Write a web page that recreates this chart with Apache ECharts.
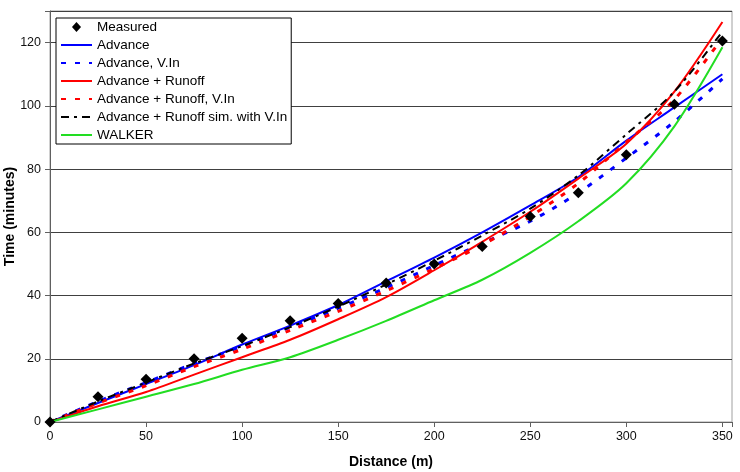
<!DOCTYPE html>
<html>
<head>
<meta charset="utf-8">
<script src="https://cdn.jsdelivr.net/npm/echarts@6/dist/echarts.min.js"></script>
<style>
html,body{margin:0;padding:0;background:#fff;}
#chart{width:740px;height:472px;}
</style>
</head>
<body>
<div id="chart"></div>
<script>
var distances = [0, 25, 50, 75, 100, 125, 150, 175, 200, 225, 250, 275, 300, 325, 350];
var measured = [0, 8, 13.5, 20, 26.5, 32, 37.5, 44, 50, 55.5, 65, 72.5, 84.5, 100.5, 120.5];
var advance = [0, 6, 12, 18, 24.5, 30.5, 37, 44.5, 52, 60, 68.5, 77.5, 89, 99.5, 110];
var advanceVIn = [0, 6.5, 12.5, 18.5, 24, 30, 36, 42.5, 49.5, 56.5, 63.5, 72.5, 83.5, 95, 108.5];
var advanceRunoff = [0, 5, 9.5, 15, 20.5, 26, 32.5, 39.5, 48, 57, 66.5, 77, 88, 104.5, 126.5];
var advanceRunoffVIn = [0, 6, 11.5, 17.5, 23, 29, 35, 41.5, 48.5, 56, 65, 75.5, 88.5, 102, 121.5];
var advanceRunoffSim = [0, 6.5, 12.5, 18.5, 24, 30, 36.5, 43.5, 51, 59, 67.5, 78, 91, 104.5, 123.5];
var walker = [0, 4, 8, 12, 16.5, 20.5, 26, 32, 38.5, 45, 53.5, 63.5, 75.5, 93.5, 118.5];
var xTicks = [0, 50, 100, 150, 200, 250, 300, 350];
var yTicks = [0, 20, 40, 60, 80, 100, 120];
var seriesNames = ['Measured', 'Advance', 'Advance, V.In', 'Advance + Runoff', 'Advance + Runoff, V.In', 'Advance + Runoff sim. with V.In', 'WALKER'];

function pairs(ys) { return distances.map(function (d, i) { return [d, ys[i]]; }); }

var chart = echarts.init(document.getElementById('chart'));
var font = 'Liberation Sans, Arial, sans-serif';
function lineSeries(name, ys, color, type, width) {
  return {
    name: name, type: 'line', data: pairs(ys), symbol: 'none', smooth: 0.3,
    lineStyle: { color: color, width: width, type: type }, itemStyle: { color: color },
    emphasis: { disabled: true }
  };
}
var hidden = { color: 'rgba(0,0,0,0)', borderWidth: 0 };
var legendData = seriesNames.map(function (n, i) {
  if (i === 0) return { name: n, icon: 'path://M5,0 L10,5.5 L5,11 L0,5.5 Z', itemStyle: { color: '#000' } };
  return { name: n, itemStyle: hidden };
});
chart.setOption({
  animation: false,
  backgroundColor: '#fff',
  grid: { left: 50, right: 8, top: 11, bottom: 50, containLabel: false, outerBoundsMode: 'none',
    show: true, borderColor: '#a0a0a0', borderWidth: 1 },
  legend: {
    orient: 'vertical', left: 56, top: 18,
    backgroundColor: '#fff', borderColor: '#000', borderWidth: 1,
    padding: [1, 4, 1, 4], itemWidth: 31, itemHeight: 10, itemGap: 2, symbolKeepAspect: true,
    textStyle: { fontFamily: font, fontSize: 13.5, color: '#000', lineHeight: 16 },
    data: legendData
  },
  xAxis: {
    type: 'value', min: 0, max: 355, interval: 50,
    name: 'Distance (m)', nameLocation: 'middle', nameGap: 33, nameMoveOverlap: false,
    nameTextStyle: { fontFamily: font, fontSize: 14, fontWeight: 'bold', color: '#000' },
    axisLine: { show: true, lineStyle: { color: '#606060', width: 1 } },
    axisTick: { show: true, length: 5, lineStyle: { color: '#606060' } },
    axisLabel: { fontFamily: font, fontSize: 12.5, color: '#111', margin: 8,
      formatter: function (v) { return xTicks.indexOf(v) >= 0 ? String(v) : ''; } },
    splitLine: { show: false }
  },
  yAxis: {
    type: 'value', min: 0, max: 130, interval: 20,
    name: 'Time (minutes)', nameLocation: 'middle', nameGap: 33, nameMoveOverlap: false,
    nameTextStyle: { fontFamily: font, fontSize: 14, fontWeight: 'bold', color: '#000' },
    axisLine: { show: true, lineStyle: { color: '#606060', width: 1 } },
    axisTick: { show: true, length: 5, lineStyle: { color: '#606060' } },
    axisLabel: { fontFamily: font, fontSize: 12.5, color: '#111', margin: 9,
      formatter: function (v) { return yTicks.indexOf(v) >= 0 ? String(v) : ''; } },
    splitLine: { show: true, lineStyle: { color: '#404040', width: 1 } }
  },
  series: [
    { name: 'Measured', type: 'scatter', data: pairs(measured), symbol: 'diamond', symbolSize: 11,
      itemStyle: { color: '#000', opacity: 1 }, z: 10, emphasis: { disabled: true } },
    lineSeries('Advance', advance, '#0000ff', 'solid', 2),
    lineSeries('Advance, V.In', advanceVIn, '#0000ff', [5, 9], 3),
    lineSeries('Advance + Runoff', advanceRunoff, '#ff0000', 'solid', 2),
    lineSeries('Advance + Runoff, V.In', advanceRunoffVIn, '#ff0000', [5, 9], 3),
    lineSeries('Advance + Runoff sim. with V.In', advanceRunoffSim, '#000000', [8, 5, 3, 5], 2),
    lineSeries('WALKER', walker, '#22dd22', 'solid', 2)
  ]
});
</script>
</body>
</html>
